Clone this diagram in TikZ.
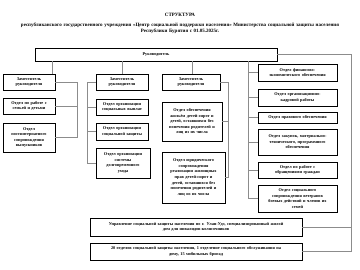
\documentclass[tikz,border=0pt]{standalone}
\usepackage{fontspec}
\setmainfont{Liberation Serif}
\begin{document}
\begin{tikzpicture}[x=1bp,y=-1bp,
  box/.style={draw=black, line width=0.9pt, fill=white, align=center,
    font=\fontsize{4.3}{5.6}\selectfont\bfseries, inner sep=0pt},
  conn/.style={draw=black!45, line width=0.6pt},
  ttl/.style={font=\fontsize{5}{6}\selectfont\bfseries, inner sep=0pt, align=center}]
\newcommand\bx[6]{%
  \pgfmathsetmacro\bw{#4-#2}\pgfmathsetmacro\bh{#5-#3}%
  \pgfmathsetmacro\tw{#4-#2-3}%
  \node[box, minimum width=\bw bp, minimum height=\bh bp, text width=\tw bp] (#1) at ({(#2+#4)/2},{(#3+#5)/2}) {#6};}
\useasboundingbox[fill=white] (0,0) rectangle (360,270);
\node[ttl] (title) at (180,15) {СТРУКТУРА};
\node[ttl, text width=340bp] (sub) at (180,28.5) {республиканского государственного учреждения «Центр социальной поддержки населения» Министерства социальной защиты населения\\Республики Бурятия с 01.05.2025г.};
\bx{ruk}{35}{48}{277}{61}{Руководитель}
% column 1
\bx{z1}{3}{74}{55}{90}{Заместитель\\руководителя}
\bx{sem}{3}{98}{55}{114}{Отдел по работе с\\семьей и детьми}
\bx{post}{3}{123}{55}{152}{Отдел\\постинтернатного\\сопровождения\\выпускников}
% column 2
\bx{z2}{96}{74}{148}{90}{Заместитель\\руководителя}
\bx{vyp}{96}{99}{148}{115}{Отдел организации\\социальных выплат}
\bx{zash}{96}{123}{148}{140}{Отдел организации\\социальной защиты}
\bx{uhod}{96}{148}{150}{178}{Отдел организации\\системы\\долговременного\\ухода}
% column 3
\bx{z3}{162}{74}{220}{90}{Заместитель\\руководителя}
\bx{zhil}{162}{102}{222}{141}{Отдел обеспечения\\жильём детей-сирот и\\детей, оставшихся без\\попечения родителей и\\лиц из их числа}
\bx{yur}{162}{152}{225}{203}{Отдел юридического\\сопровождения\\реализации жилищных\\прав детей-сирот и\\детей, оставшихся без\\попечения родителей и\\лиц из их числа}
% right column
\bx{fin}{258}{64}{337}{81}{Отдел финансово-\\экономического обеспечения}
\bx{kadr}{258}{89}{337}{106}{Отдел организационно-\\кадровой работы}
\bx{prav}{258}{112}{337}{123}{Отдел правового обеспечения}
\bx{zak}{258}{129}{337}{155}{Отдел закупок, материально-\\технического, программного\\обеспечения}
\bx{obr}{258}{162}{337}{178}{Отдел по работе с\\обращениями граждан}
\bx{vet}{258}{185}{337}{212}{Отдел социального\\сопровождения ветеранов\\боевых действий и членов их\\семей}
% bottom
\bx{upr}{90}{218}{302}{236}{Управление социальной защиты населения по г. Улан-Удэ, специализированный жилой\\дом для инвалидов-колясочников}
\bx{otd}{90}{243}{302}{260}{20 отделов социальной защиты населения, 1 отделение социального обслуживания на\\дому, 15 мобильных бригад}
% bus coordinates
\coordinate (k1) at (52,0);
\coordinate (k2) at (122,0);
\coordinate (k3) at (192,0);
\coordinate (c1) at (77,0);
\coordinate (c2) at (87,0);
\coordinate (c3) at (228,0);
\coordinate (cr) at (248,0);
\coordinate (cR) at (351,0);
% connectors
\draw[conn] (ruk.south -| k1) -- (z1.north -| k1);
\draw[conn] (ruk.south -| k2) -- (z2.north -| k2);
\draw[conn] (ruk.south -| k3) -- (z3.north -| k3);
\draw[conn] (z1.east) -- (z1.east -| c1) |- (post.east);
\draw[conn] (sem.east) -- (sem.east -| c1);
\draw[conn] (z2.west) -- (z2.west -| c2) |- (uhod.west);
\draw[conn] (vyp.west) -- (vyp.west -| c2);
\draw[conn] (zash.west) -- (zash.west -| c2);
\draw[conn] (z3.east) -- (z3.east -| c3) |- (yur.east);
\draw[conn] (zhil.east) -- (zhil.east -| c3);
\draw[conn] (ruk.south -| cr) |- (vet.west);
\draw[conn] (fin.west) -- (fin.west -| cr);
\draw[conn] (kadr.west) -- (kadr.west -| cr);
\draw[conn] (prav.west) -- (prav.west -| cr);
\draw[conn] (zak.west) -- (zak.west -| cr);
\draw[conn] (obr.west) -- (obr.west -| cr);
\draw[conn] (ruk.east) -- (ruk.east -| cR) |- (otd.east);
\draw[conn] (upr.east) -- (upr.east -| cR);
\end{tikzpicture}
\end{document}
